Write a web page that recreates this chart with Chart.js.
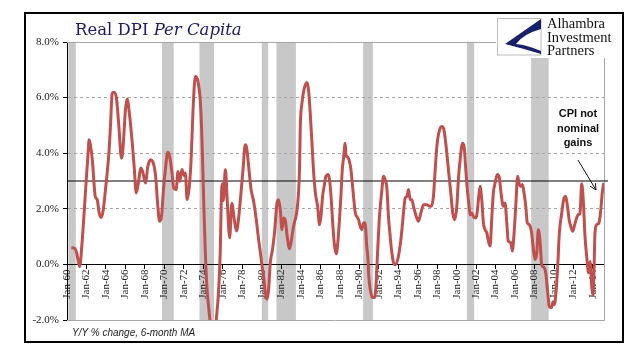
<!DOCTYPE html>
<html>
<head>
<meta charset="utf-8">
<title>Real DPI Per Capita</title>
<script src="https://cdn.jsdelivr.net/npm/chart.js@4.4.1/dist/chart.umd.min.js"></script>
<style>
  body { margin: 0; background: #fff; }
  #wrap { position: relative; width: 641px; height: 358px; overflow: hidden; }
  #chart { position: absolute; left: 0; top: 0; }
  .title { position: absolute; left: 75px; top: 22px; font: 16.5px/16px "DejaVu Serif", serif; color: #1b1b6e; white-space: nowrap; }
  .title i { font-style: italic; }
  .note { position: absolute; left: 72px; top: 327.5px; font: italic 10px/10px "Liberation Sans", sans-serif; color: #222; white-space: nowrap; }
  .callout { position: absolute; left: 543px; width: 70px; top: 106px; text-align: center; font: bold 11px/14.5px "Liberation Sans", sans-serif; color: #111; }
  .logo { position: absolute; left: 496px; top: 15px; width: 125px; height: 43px; background: #fff; }
  .logo svg { position: absolute; left: 1px; top: 3px; }
  .logo .name { position: absolute; left: 51px; top: 2px; font: 14.5px/13.5px "Liberation Serif", serif; color: #111; white-space: nowrap; }
</style>
</head>
<body>
<div id="wrap">
  <canvas id="chart" width="641" height="358"></canvas>
  <div class="title">Real DPI <i>Per Capita</i></div>
  <div class="note">Y/Y % change, 6-month MA</div>
  <div class="callout">CPI not<br>nominal<br>gains</div>
  <div class="logo">
    <svg width="45" height="38" viewBox="0 0 45 38">
      <rect x="0.5" y="0.5" width="43.5" height="36.5" fill="#fff" stroke="#bbb" stroke-width="1"/>
      <path d="M44,1 L44,11 Q26,16 19,26 Q30,27 44,33 L44,36 Q24,30 8,26 Z" fill="#17206b"/>
    </svg>
    <div class="name">Alhambra<br>Investment<br>Partners</div>
  </div>
</div>
<script>
// Real DPI per capita, Y/Y % change (6-month MA)
const dpiYears = [
  1960.45, 1960.8, 1961.0, 1961.3, 1961.55, 1961.7, 1962.0, 1962.15, 1962.27, 1962.4,
  1962.6, 1962.9, 1963.1, 1963.3, 1963.5, 1963.7, 1963.95, 1964.3, 1964.46, 1964.64,
  1964.8, 1965.08, 1965.3, 1965.6, 1965.76, 1966.0, 1966.17, 1966.44, 1966.7, 1966.92,
  1967.1, 1967.3, 1967.6, 1967.8, 1968.05, 1968.3, 1968.56, 1968.8, 1969.08, 1969.3,
  1969.5, 1969.7, 1969.93, 1970.1, 1970.34, 1970.54, 1970.8, 1970.95, 1971.2, 1971.4,
  1971.57, 1971.8, 1972.0, 1972.15, 1972.33, 1972.56, 1972.74, 1972.94, 1973.18, 1973.45,
  1973.7, 1973.87, 1974.03, 1974.2, 1974.38, 1974.6, 1974.9, 1975.15, 1975.33, 1975.57,
  1975.74, 1975.84, 1975.95, 1976.05, 1976.26, 1976.45, 1976.7, 1976.92, 1977.18, 1977.4,
  1977.6, 1977.8, 1978.07, 1978.3, 1978.45, 1978.65, 1978.9, 1979.16, 1979.43, 1979.67,
  1979.9, 1980.0, 1980.18, 1980.36, 1980.53, 1980.7, 1980.87, 1981.1, 1981.3, 1981.56,
  1981.72, 1981.9, 1982.07, 1982.24, 1982.4, 1982.58, 1982.85, 1983.1, 1983.26, 1983.6,
  1983.77, 1983.87, 1983.95, 1984.12, 1984.36, 1984.63, 1984.8, 1984.97, 1985.15, 1985.3,
  1985.5, 1985.73, 1985.93, 1986.07, 1986.24, 1986.4, 1986.58, 1986.79, 1986.95, 1987.13,
  1987.3, 1987.47, 1987.64, 1987.8, 1987.95, 1988.12, 1988.26, 1988.4, 1988.56, 1988.65,
  1988.74, 1988.95, 1989.15, 1989.35, 1989.6, 1989.75, 1989.93, 1990.1, 1990.27, 1990.44,
  1990.6, 1990.77, 1990.9, 1990.98, 1991.13, 1991.36, 1991.57, 1991.74, 1991.9, 1992.08,
  1992.33, 1992.5, 1992.66, 1992.84, 1993.0, 1993.18, 1993.35, 1993.6, 1993.76, 1994.03,
  1994.28, 1994.48, 1994.72, 1994.9, 1995.06, 1995.23, 1995.4, 1995.57, 1995.85, 1996.08,
  1996.33, 1996.6, 1996.95, 1997.18, 1997.4, 1997.62, 1997.8, 1997.97, 1998.2, 1998.48,
  1998.7, 1998.92, 1999.16, 1999.4, 1999.6, 1999.8, 2000.02, 2000.18, 2000.36, 2000.6,
  2000.77, 2000.94, 2001.1, 2001.28, 2001.38, 2001.55, 2001.72, 2001.9, 2002.05, 2002.24,
  2002.41, 2002.58, 2002.75, 2002.92, 2003.1, 2003.26, 2003.44, 2003.6, 2003.77, 2003.95,
  2004.18, 2004.39, 2004.56, 2004.8, 2004.97, 2005.15, 2005.3, 2005.56, 2005.72, 2005.9,
  2006.07, 2006.27, 2006.4, 2006.58, 2006.75, 2006.92, 2007.1, 2007.26, 2007.46, 2007.7,
  2007.88, 2008.05, 2008.22, 2008.39, 2008.56, 2008.74, 2008.95, 2009.15, 2009.35, 2009.52,
  2009.75, 2009.9, 2010.03, 2010.2, 2010.38, 2010.54, 2010.79, 2011.03, 2011.2, 2011.38,
  2011.55, 2011.72, 2011.92, 2012.08, 2012.26, 2012.5, 2012.67, 2012.84, 2013.0, 2013.18,
  2013.35, 2013.55, 2013.7, 2013.87, 2014.0, 2014.1, 2014.2, 2014.38, 2014.6, 2014.77,
  2014.95, 2015.1
];
const dpiValues = [
  0.60, 0.57, 0.40, -0.08, 0.80, 1.55, 3.17, 3.90, 4.48, 4.30,
  3.76, 2.45, 2.33, 1.86, 1.69, 1.91, 2.69, 4.00, 4.96, 6.15,
  6.19, 5.97, 5.08, 3.82, 4.24, 5.56, 5.95, 5.32, 4.36, 3.40,
  2.57, 2.87, 3.47, 3.29, 2.93, 3.52, 3.76, 3.70, 3.23, 2.21,
  1.55, 1.73, 2.81, 3.41, 4.03, 3.88, 3.23, 2.75, 2.69, 3.34,
  2.99, 3.41, 3.20, 3.29, 2.33, 2.81, 3.76, 5.56, 6.77, 6.57,
  5.80, 4.36, 2.33, 0.42, -0.90, -1.73, -2.60, -2.50, -1.97, -0.90,
  0.54, 2.33, 2.90, 2.30, 3.41, 2.30, 0.96, 2.20, 1.60, 1.20,
  1.60, 2.33, 3.41, 4.30, 4.18, 3.52, 2.69, 2.27, 1.61, 0.90,
  0.30, 0.00, -0.42, -1.00, -1.25, -0.90, 0.06, 0.54, 1.13, 2.21,
  2.33, 1.97, 1.25, 1.67, 1.61, 1.08, 0.56, 1.01, 1.37, 1.91,
  2.57, 3.41, 4.96, 5.80, 6.33, 6.54, 6.27, 5.44, 4.36, 3.41,
  2.57, 2.09, 1.43, 1.73, 2.45, 2.81, 3.17, 3.23, 3.05, 2.33,
  1.37, 0.66, 0.38, 0.78, 1.49, 2.45, 3.40, 3.85, 4.36, 3.90,
  3.88, 3.76, 3.41, 2.69, 1.85, 1.73, 1.61, 1.37, 1.25, 1.49,
  1.49, 0.66, 0.18, -0.42, -0.90, -1.19, -1.19, -0.66, 0.54, 1.73,
  2.69, 3.17, 3.05, 2.75, 1.73, 1.01, 0.42, 0.00, 0.00, 0.30,
  0.90, 1.61, 2.39, 2.45, 2.69, 2.33, 2.33, 2.09, 1.73, 1.55,
  1.85, 2.15, 2.15, 2.10, 2.09, 2.45, 3.41, 4.24, 4.78, 4.96,
  4.84, 4.24, 3.41, 2.57, 1.85, 1.61, 2.09, 3.05, 3.76, 4.36,
  4.24, 3.41, 2.69, 2.09, 1.79, 1.85, 1.73, 1.67, 1.73, 2.33,
  2.81, 2.33, 1.49, 1.25, 1.13, 0.84, 0.66, 1.61, 2.57, 2.93,
  3.23, 3.11, 2.57, 2.09, 2.21, 1.49, 0.84, 0.78, 0.48, 1.13,
  2.09, 3.17, 2.93, 2.81, 2.87, 2.57, 2.09, 1.49, 1.43, 1.13,
  0.54, 0.18, 0.40, 1.25, 0.85, -0.02, -0.10, -0.30, -1.01, -1.52,
  -1.55, -1.34, -1.45, -1.01, -0.06, 1.10, 1.85, 2.39, 2.45, 2.09,
  1.61, 1.37, 1.19, 1.37, 1.61, 1.79, 1.85, 2.90, 2.33, 1.01,
  0.30, -0.30, 0.10, -0.80, -1.10, -0.30, 1.10, 1.43, 1.49, 1.85,
  2.57, 2.93
];

// recession shading (start / end, decimal years)
const recessionStart = [1960.15, 1969.75, 1973.6, 1980.0, 1981.5, 1990.4, 2001.05, 2007.65];
const recessionEnd   = [1960.9, 1970.95, 1975.1, 1980.65, 1983.5, 1991.4, 2001.8, 2009.45];

const xTickYears = [1960, 1962, 1964, 1966, 1968, 1970, 1972, 1974, 1976, 1978, 1980, 1982, 1984, 1986,
                    1988, 1990, 1992, 1994, 1996, 1998, 2000, 2002, 2004, 2006, 2008, 2010, 2012, 2014];
const yTickValues = [-2, 0, 2, 4, 6, 8];
const targetLine = 3;   // the black 3% line
const xMin = 1960, xMax = 2015.13;

// grey bars behind everything
const recessionShading = {
  id: "recessionShading",
  beforeDraw(chart) {
    const { ctx, chartArea: a, scales: { x } } = chart;
    ctx.save();
    ctx.fillStyle = "#c8c8c8";
    recessionStart.forEach((s, i) => {
      const x1 = x.getPixelForValue(s), x2 = x.getPixelForValue(recessionEnd[i]);
      ctx.fillRect(x1, a.top, x2 - x1, a.bottom - a.top);
    });
    ctx.restore();
  }
};

// thin grey border on top / right / bottom of the plot
const plotFrame = {
  id: "plotFrame",
  beforeDatasetsDraw(chart) {
    const { ctx, chartArea: a } = chart;
    ctx.save();
    ctx.strokeStyle = "#a6a6a6";
    ctx.lineWidth = 1;
    ctx.beginPath();
    ctx.moveTo(a.left, a.top + 0.5);
    ctx.lineTo(a.right + 0.5, a.top + 0.5);
    ctx.lineTo(a.right + 0.5, a.bottom + 0.5);
    ctx.lineTo(a.left, a.bottom + 0.5);
    ctx.stroke();
    ctx.restore();
  }
};

// outer black box and the arrow from the callout to the end of the line
const decorations = {
  id: "decorations",
  afterDraw(chart) {
    const { ctx } = chart;
    ctx.save();
    ctx.strokeStyle = "#000";
    ctx.lineWidth = 2;
    ctx.strokeRect(25, 13, 598, 329);

    const x1 = 578, y1 = 160, x2 = 596, y2 = 190;
    const ang = Math.atan2(y2 - y1, x2 - x1);
    ctx.strokeStyle = "#111";
    ctx.lineWidth = 1;
    ctx.beginPath();
    ctx.moveTo(x1, y1);
    ctx.lineTo(x2, y2);
    ctx.moveTo(x2 - 7 * Math.cos(ang - 0.45), y2 - 7 * Math.sin(ang - 0.45));
    ctx.lineTo(x2, y2);
    ctx.lineTo(x2 - 7 * Math.cos(ang + 0.45), y2 - 7 * Math.sin(ang + 0.45));
    ctx.stroke();
    ctx.restore();
  }
};

const serif = { family: "'Liberation Serif', 'Times New Roman', serif", size: 11 };

const ctx = document.getElementById("chart").getContext("2d");
const chart = new Chart(ctx, {
  type: "line",
  data: {
    datasets: [
      {
        label: "Real DPI per capita",
        data: dpiYears.map((yr, i) => ({ x: yr, y: dpiValues[i] })),
        borderColor: "#c0504d",
        borderWidth: 3,
        pointRadius: 0,
        cubicInterpolationMode: "monotone",
        clip: 0
      },
      {
        label: "3%",
        data: [{ x: xMin, y: targetLine }, { x: xMax + 1, y: targetLine }],
        borderColor: "#000",
        borderWidth: 1,
        pointRadius: 0,
        clip: { left: 0, top: 0, right: 4, bottom: 0 }
      }
    ]
  },
  options: {
    responsive: false,
    animation: false,
    layout: { padding: { left: 25, right: 37, top: 42, bottom: 38 } },
    plugins: { legend: { display: false }, tooltip: { enabled: false } },
    scales: {
      x: {
        type: "linear",
        min: xMin,
        max: xMax,
        position: { y: 0 },
        afterBuildTicks: s => { s.ticks = xTickYears.map(v => ({ value: v })); },
        afterFit: s => { s.height = 0; },
        grid: { drawOnChartArea: false, tickLength: 4, tickColor: "#000" },
        border: { color: "#000", width: 1 },
        ticks: {
          autoSkip: false, minRotation: 90, maxRotation: 90, padding: 1,
          color: "#1a1a1a", font: serif,
          callback: v => "Jan-" + String(v % 100).padStart(2, "0")
        }
      },
      y: {
        min: -2,
        max: 8,
        afterBuildTicks: s => { s.ticks = yTickValues.map(v => ({ value: v })); },
        afterFit: s => { s.width = 42; },
        grid: {
          color: c => (c.tick && [2, 4, 6].includes(c.tick.value)) ? "#a6a6a6" : "rgba(0,0,0,0)",
          tickLength: 4, tickColor: "#000", tickBorderDash: []
        },
        border: { color: "#000", width: 1, dash: [3, 3] },
        ticks: { padding: 4, color: "#1a1a1a", font: serif, callback: v => v.toFixed(1) + "%" }
      }
    }
  },
  plugins: [recessionShading, plotFrame, decorations]
});
</script>
</body>
</html>
